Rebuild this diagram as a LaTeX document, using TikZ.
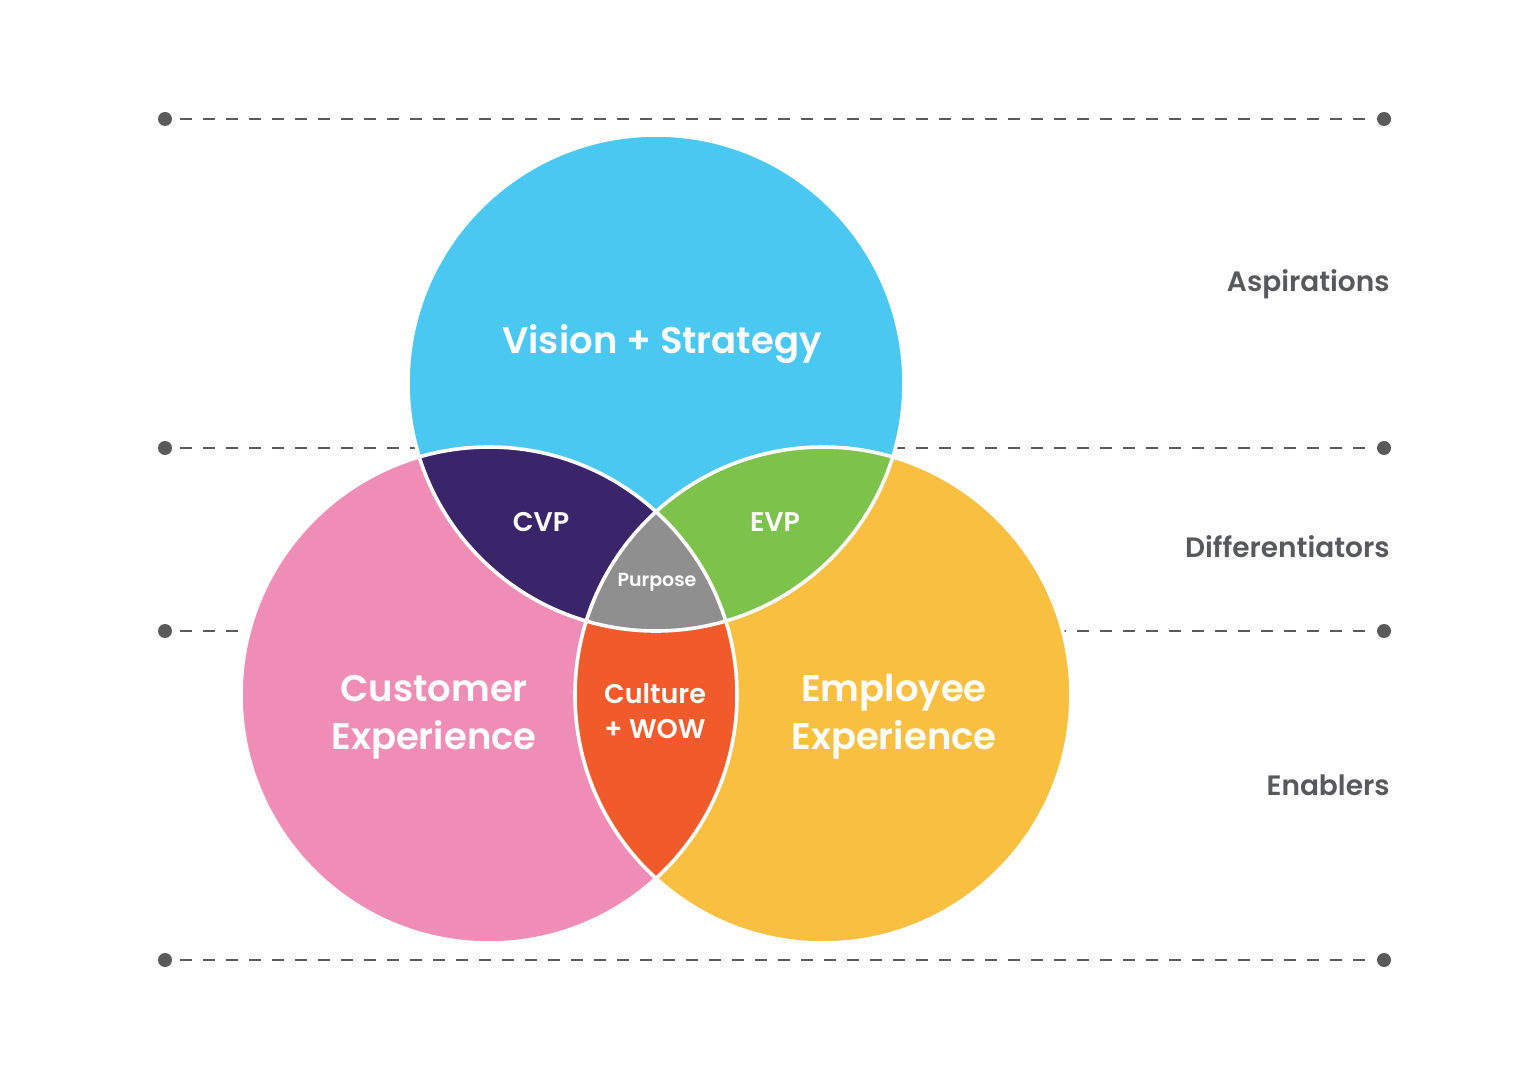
\documentclass[tikz,border=0pt]{standalone}
\usepackage{fontspec}
\setmainfont{Poppins}[BoldFont={Poppins SemiBold}]
\definecolor{cblue}{HTML}{4AC8F2}
\definecolor{cpink}{HTML}{EF8DB7}
\definecolor{cyellow}{HTML}{F9BF41}
\definecolor{cpurple}{HTML}{3B256A}
\definecolor{cgreen}{HTML}{7DC24B}
\definecolor{cgray}{HTML}{8F8F8F}
\definecolor{corange}{HTML}{F15A2B}
\definecolor{ctext}{HTML}{58595B}
\definecolor{cline}{HTML}{5A5A5A}
\begin{document}
\begin{tikzpicture}[x=0.5pt,y=-0.5pt,
  dotnode/.style={circle,fill=cline,inner sep=0pt,minimum size=7pt},
  guide/.style={draw=cline,line width=1.1pt,dash pattern=on 6pt off 5.5pt,shorten <=4pt,shorten >=4pt},
  rim/.style={draw=white,line width=1.8pt},
  big/.style={text=white,font=\bfseries\fontsize{18.5}{24}\selectfont,align=center,inner sep=0pt},
  mid/.style={text=white,font=\bfseries\fontsize{13.5}{17.5}\selectfont,align=center,inner sep=0pt},
  small/.style={text=white,font=\bfseries\fontsize{9.5}{12}\selectfont,inner sep=0pt},
  side/.style={text=ctext,font=\bfseries\fontsize{14}{16}\selectfont,anchor=east,inner sep=0pt}]
\useasboundingbox[fill=white] (0,0) rectangle (1516,1080);
% guide lines
\foreach \y/\n in {119/a,448/b,631/c,960/d}{
  \node[dotnode] (l\n) at (165,\y) {};
  \node[dotnode] (r\n) at (1384,\y) {};
  \draw[guide] (l\n) -- (r\n);
}
% circles
\coordinate (T) at (656,383);
\coordinate (L) at (489,695);
\coordinate (R) at (823,695);
\fill[cblue] (T) circle[radius=124pt];
\fill[cpink] (L) circle[radius=124pt];
\fill[cyellow] (R) circle[radius=124pt];
\begin{scope}
  \clip (T) circle[radius=124pt];
  \fill[cpurple] (L) circle[radius=124pt];
  \fill[cgreen] (R) circle[radius=124pt];
\end{scope}
\begin{scope}
  \clip (L) circle[radius=124pt];
  \fill[corange] (R) circle[radius=124pt];
\end{scope}
\begin{scope}
  \clip (T) circle[radius=124pt];
  \clip (L) circle[radius=124pt];
  \fill[cgray] (R) circle[radius=124pt];
\end{scope}
\draw[rim] (T) circle[radius=124pt];
\draw[rim] (L) circle[radius=124pt];
\draw[rim] (R) circle[radius=124pt];
% labels
\node[big] (vs) at (662,344) {Vision + Strategy};
\node[big] (cx) at (434,717) {Customer\\Experience};
\node[big] (ex) at (894,717) {Employee\\Experience};
\node[mid] (cvp) at (541,522) {CVP};
\node[mid] (evp) at (775,522) {EVP};
\node[small] (pur) at (657,582) {Purpose};
\node[mid] (cw) at (655,711) {Culture\\+ WOW};
\node[side] (asp) at (1390,284) {Aspirations};
\node[side] (dif) at (1390,547) {Differentiators};
\node[side] (ena) at (1390,785) {Enablers};
\end{tikzpicture}
\end{document}
